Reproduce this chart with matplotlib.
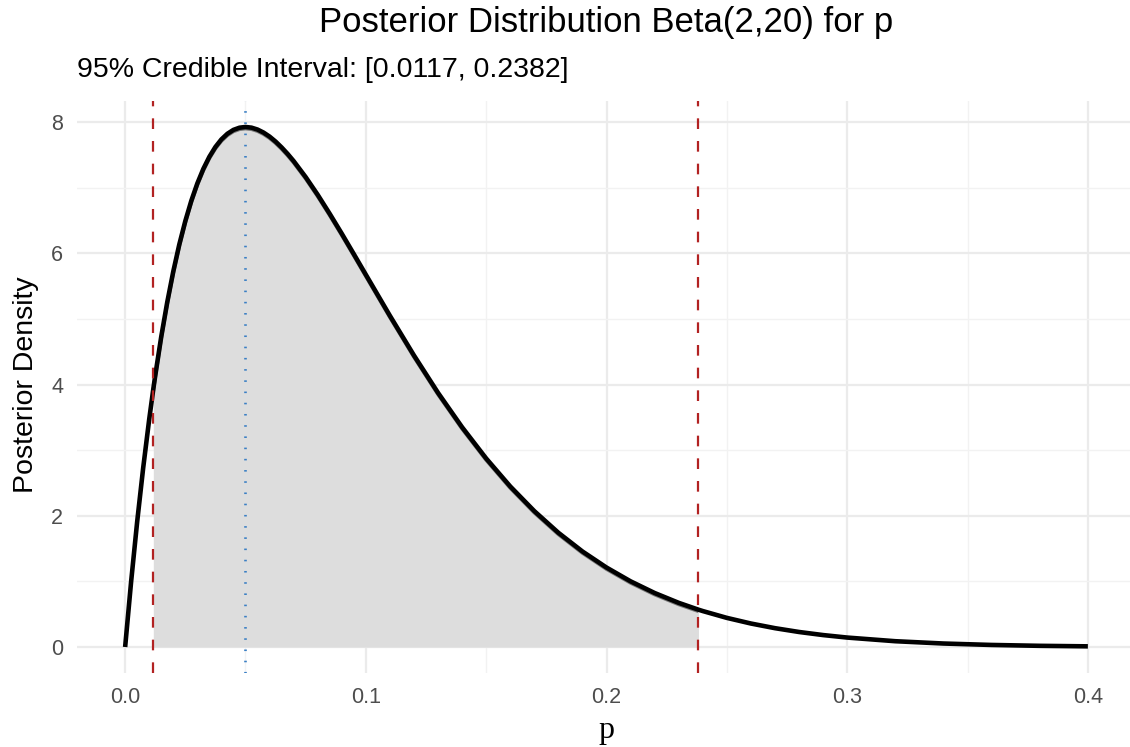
import numpy as np
import matplotlib.pyplot as plt
import matplotlib.transforms as mtransforms
from matplotlib.ticker import MultipleLocator

# density values
p = [0.0, 0.0025, 0.005, 0.0075, 0.01, 0.0117, 0.0125, 0.015, 0.0175, 0.02,
     0.0225, 0.025, 0.0275, 0.03, 0.0325, 0.035, 0.0375, 0.04, 0.0425, 0.045,
     0.0475, 0.05, 0.0525, 0.055, 0.0575, 0.06, 0.0625, 0.065, 0.0675, 0.07,
     0.075, 0.08, 0.085, 0.09, 0.095, 0.10, 0.11, 0.12, 0.13, 0.14, 0.15, 0.16,
     0.17, 0.18, 0.19, 0.20, 0.21, 0.22, 0.23, 0.2382, 0.24, 0.25, 0.26, 0.27,
     0.28, 0.29, 0.30, 0.32, 0.34, 0.36, 0.38, 0.40]
dens = [0.0, 1.001, 1.909, 2.730, 3.470, 3.930, 4.134, 4.728, 5.255, 5.722,
        6.133, 6.490, 6.800, 7.064, 7.286, 7.470, 7.619, 7.735, 7.821, 7.880,
        7.913, 7.924, 7.914, 7.885, 7.839, 7.778, 7.702, 7.613, 7.514, 7.405,
        7.161, 6.891, 6.601, 6.299, 5.988, 5.674, 5.048, 4.443, 3.873, 3.349, 2.873, 2.447,
        2.071, 1.741, 1.456, 1.211, 1.001, 0.823, 0.673, 0.569, 0.548, 0.444, 0.358, 0.287,
        0.229, 0.182, 0.144, 0.0883, 0.0532, 0.0314, 0.0181, 0.0102]

ci_low, ci_high = 0.0117, 0.2382
mode = 0.05
xticks = [0.0, 0.1, 0.2, 0.3, 0.4]
xtick_labels = ['0.0', '0.1', '0.2', '0.3', '0.4']

p = np.array(p)
dens = np.array(dens)

plt.rcParams['font.family'] = ['Liberation Sans', 'DejaVu Sans']

W, H = 1130, 747
fig = plt.figure(figsize=(W / 100, H / 100), dpi=100)
ax = fig.add_axes([77/W, 1 - 673/H, 1059/W, 572/H])

inside = (p >= ci_low) & (p <= ci_high)
ax.fill_between(p[inside], 0, dens[inside], color='#dddddd', lw=0, zorder=2)
# grey outline of the shaded area peeks out just under the black curve
shift = mtransforms.offset_copy(ax.transData, fig=fig, x=0, y=-1.6, units='dots')
ax.plot(p[inside], dens[inside], color='#777777', lw=2.6, zorder=3,
        transform=shift, solid_capstyle='butt')
ax.plot(p, dens, color='black', lw=3.3, zorder=4, solid_capstyle='butt',
        solid_joinstyle='round')

ax.axvline(ci_low, color='#b22222', lw=1.6, ls=(0, (4.8, 5.4)), zorder=5)
ax.axvline(ci_high, color='#b22222', lw=1.6, ls=(0, (4.8, 5.4)), zorder=5)
ax.axvline(mode, color='#3a7fc4', lw=1.9, ls=(0, (0.6, 3.65)), zorder=5)

ax.set_xlim(-0.02, 0.42)
ax.set_ylim(-0.396, 8.32)
ax.set_xticks(xticks)
ax.set_xticklabels(xtick_labels)
ax.xaxis.set_minor_locator(MultipleLocator(0.05))
ax.yaxis.set_major_locator(MultipleLocator(2))
ax.yaxis.set_minor_locator(MultipleLocator(1))
ax.grid(which='major', color='#ebebeb', lw=1.6, zorder=0)
ax.grid(which='minor', color='#f2f2f2', lw=1.0, zorder=0)
ax.set_axisbelow(True)
for s in ax.spines.values():
    s.set_visible(False)
ax.tick_params(which='both', length=0, labelsize=15.5, labelcolor='#4d4d4d')
ax.tick_params(axis='x', pad=10)
ax.tick_params(axis='y', pad=10)

cx = (77 + 1136) / 2 / W
fig.text(cx, 1 - 32/H, 'Posterior Distribution Beta(2,20) for p',
         ha='center', va='baseline', fontsize=25)
fig.text(77/W, 1 - 77/H, '95% Credible Interval: [0.0117, 0.2382]',
         ha='left', va='baseline', fontsize=20.5)
fig.text(cx, 1 - 738/H, 'p', family='Liberation Serif', fontsize=23,
         ha='center', va='baseline')
fig.text(33/W, 1 - 385/H, 'Posterior Density', fontsize=20.5, rotation=90,
         ha='center', va='baseline', rotation_mode='anchor')

fig.savefig('out.png', dpi=100)
